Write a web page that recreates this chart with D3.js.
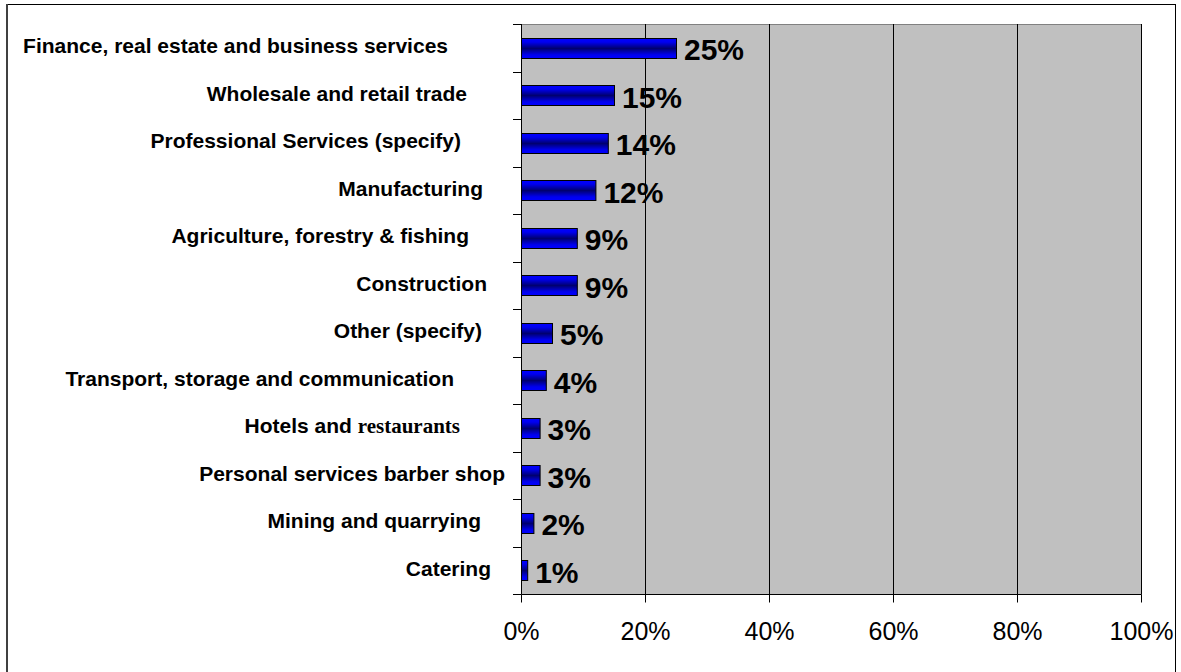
<!DOCTYPE html>
<html>
<head>
<meta charset="utf-8">
<script src="https://cdn.jsdelivr.net/npm/d3@7"></script>
<style>
  html, body { margin: 0; padding: 0; background: #fff; }
  svg { display: block; }
  text { font-family: "Liberation Sans", Arial, sans-serif; }
</style>
</head>
<body>
<svg id="chart" width="1181" height="672"></svg>
<script>
// Sector shares of respondents (top to bottom)
const categories = [
  "Finance, real estate and business services",
  "Wholesale and retail trade",
  "Professional Services (specify)",
  "Manufacturing",
  "Agriculture, forestry & fishing",
  "Construction",
  "Other (specify)",
  "Transport, storage and communication",
  "Hotels and restaurants",
  "Personal services barber shop",
  "Mining and quarrying",
  "Catering"
];
const shares = [25, 15, 14, 12, 9, 9, 5, 4, 3, 3, 2, 1];
const axisTicks = [0, 20, 40, 60, 80, 100];

// ---- layout ----
const W = 1181, H = 672;
const plot = { left: 521, right: 1141, top: 24, bottom: 594 };
// distance of each category label's right end from the axis tick ends
const labelGap = [65, 46, 52, 30, 44, 26, 31, 59, 53, 8, 32, 22];
// words set in a serif face inside a label
const serifTail = { "Hotels and restaurants": "restaurants" };

const svg = d3.select("#chart");
const crisp = v => Math.round(v) + 0.5;

const x = d3.scaleLinear().domain([0, 100]).range([plot.left, plot.right]);
const y = d3.scaleBand().domain(categories)
  .range([plot.top, plot.bottom])
  .paddingInner(0.58).paddingOuter(0.29);

// gradient for the bars: bright edges, dark middle
const defs = svg.append("defs");
const grad = defs.append("linearGradient").attr("id", "barFill")
  .attr("x1", 0).attr("y1", 0).attr("x2", 0).attr("y2", 1);
grad.append("stop").attr("offset", "0%").attr("stop-color", "#0000ff");
grad.append("stop").attr("offset", "18%").attr("stop-color", "#0000f0");
grad.append("stop").attr("offset", "50%").attr("stop-color", "#000070");
grad.append("stop").attr("offset", "82%").attr("stop-color", "#0000f0");
grad.append("stop").attr("offset", "100%").attr("stop-color", "#0000ff");

// outer frame
svg.append("line").attr("x1", 7).attr("x2", 1175.5).attr("y1", 4.5).attr("y2", 4.5)
  .attr("stroke", "#000").attr("stroke-width", 1);
svg.append("line").attr("x1", 7).attr("x2", 7).attr("y1", 4).attr("y2", H)
  .attr("stroke", "#404040").attr("stroke-width", 2);
svg.append("line").attr("x1", 1175.5).attr("x2", 1175.5).attr("y1", 4).attr("y2", H)
  .attr("stroke", "#000").attr("stroke-width", 1);

// plot area
svg.append("rect")
  .attr("x", crisp(plot.left)).attr("y", crisp(plot.top))
  .attr("width", Math.round(plot.right) - Math.round(plot.left))
  .attr("height", Math.round(plot.bottom) - Math.round(plot.top))
  .attr("fill", "#c0c0c0").attr("stroke", "#808080").attr("stroke-width", 1);

// vertical gridlines
svg.append("g").selectAll("line").data(axisTicks.filter(d => d > 0)).join("line")
  .attr("x1", d => crisp(x(d))).attr("x2", d => crisp(x(d)))
  .attr("y1", plot.top).attr("y2", plot.bottom)
  .attr("stroke", "#000").attr("stroke-width", 1);

// bars
svg.append("g").selectAll("rect").data(categories).join("rect")
  .attr("x", crisp(x(0)))
  .attr("y", d => Math.round(y(d)) + 0.5)
  .attr("width", (d, i) => x(shares[i]) - x(0))
  .attr("height", Math.round(y.bandwidth()))
  .attr("fill", "url(#barFill)")
  .attr("stroke", "#000").attr("stroke-width", 1);

// value labels
svg.append("g").selectAll("text").data(categories).join("text")
  .attr("x", (d, i) => x(shares[i]) + 8)
  .attr("y", d => y(d) + y.bandwidth() / 2 + 2)
  .attr("dy", "0.35em")
  .attr("font-size", 30).attr("font-weight", "bold").attr("fill", "#000")
  .text((d, i) => shares[i] + "%");

// left axis with ticks on the category boundaries
const step = y.step();
const boundaries = d3.range(categories.length + 1).map(k => plot.top + k * step);
const yAxis = svg.append("g");
yAxis.append("line")
  .attr("x1", crisp(plot.left)).attr("x2", crisp(plot.left))
  .attr("y1", plot.top).attr("y2", plot.bottom + 0.5)
  .attr("stroke", "#000");
yAxis.selectAll("line.tick").data(boundaries).join("line").attr("class", "tick")
  .attr("x1", plot.left - 8).attr("x2", plot.left)
  .attr("y1", d => crisp(d)).attr("y2", d => crisp(d))
  .attr("stroke", "#000");

// category labels
const labels = svg.append("g").selectAll("text").data(categories).join("text")
  .attr("x", (d, i) => plot.left - 8 - labelGap[i])
  .attr("y", d => y(d) + y.bandwidth() / 2 - 2)
  .attr("dy", "0.35em")
  .attr("text-anchor", "end")
  .attr("font-size", 21).attr("font-weight", "bold").attr("fill", "#000");
labels.each(function(d) {
  const t = d3.select(this);
  const tail = serifTail[d];
  if (tail && d.endsWith(tail)) {
    t.append("tspan").text(d.slice(0, d.length - tail.length));
    t.append("tspan").attr("font-family", "'Liberation Serif', 'Times New Roman', serif")
      .text(tail);
  } else {
    t.text(d);
  }
});

// bottom axis
const xAxis = d3.axisBottom(x)
  .tickValues(axisTicks)
  .tickFormat(d => d + "%")
  .tickSize(8).tickPadding(20);
const gx = svg.append("g").attr("transform", `translate(0.5,${crisp(plot.bottom)})`).call(xAxis);
gx.select(".domain").attr("stroke", "#000")
  .attr("d", `M${Math.round(plot.left)},0H${Math.round(plot.right)}`);
gx.selectAll(".tick line").attr("stroke", "#000");
gx.selectAll(".tick").attr("transform", d => `translate(${Math.round(x(d))},0)`);
gx.selectAll(".tick text")
  .attr("font-family", "'Liberation Sans', Arial, sans-serif")
  .attr("font-size", 25).attr("fill", "#000");
</script>
</body>
</html>
